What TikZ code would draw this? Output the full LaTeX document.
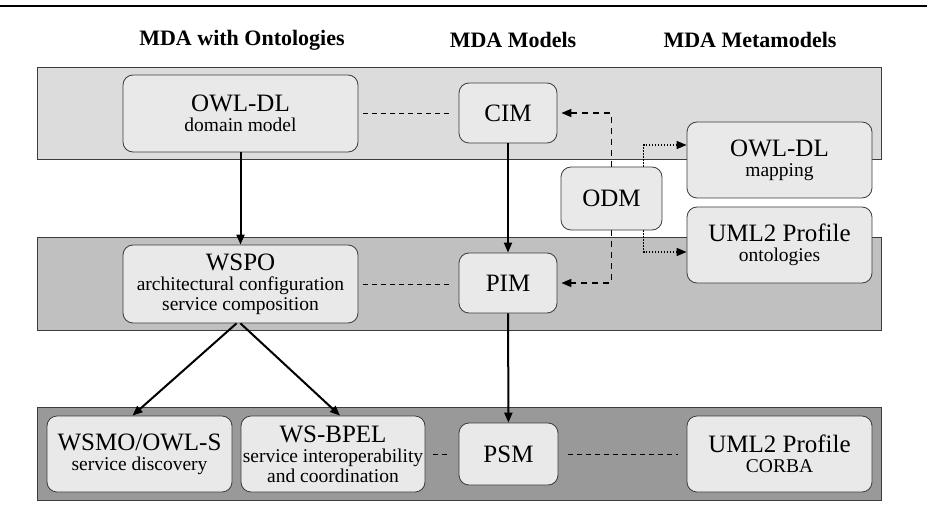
\documentclass[tikz,border=0pt]{standalone}
\usepackage{fontspec}
\setmainfont{Liberation Serif}
\newfontfamily\mserif{Liberation Serif}
\usetikzlibrary{positioning, calc, arrows.meta}
\definecolor{mbandA}{RGB}{220,220,220}
\definecolor{mbandB}{RGB}{192,192,192}
\definecolor{mbandC}{RGB}{153,153,153}
\definecolor{mbox}{RGB}{233,233,233}
\definecolor{mline}{RGB}{60,60,60}
\newcommand{\mtitle}[1]{{\fontsize{25}{25}\selectfont #1}}

\begin{document}
\begin{tikzpicture}[x=1pt,y=-1pt,
    band/.style={draw=mline, line width=0.8pt},
    model/.style={draw=mline, fill=mbox, rounded corners=10pt, line width=0.8pt,
      align=center, inner sep=0pt, font=\mserif\fontsize{19.5}{20}\selectfont},
    head/.style={font=\mserif\fontsize{22}{24}\selectfont\bfseries},
    flow/.style={-{Triangle[length=10pt,width=8pt]}, line width=2pt},
    link/.style={line width=0.9pt, dash pattern=on 5pt off 4pt},
    odmlink/.style={-{Triangle[length=10pt,width=8pt]}, line width=1.5pt,
      dash pattern=on 6pt off 5pt, shorten >=4pt},
    metalink/.style={-{Triangle[length=10pt,width=8pt]}, line width=1.5pt,
      dash pattern=on 1.5pt off 1.5pt}]
  \useasboundingbox (0,0) rectangle (927,508);
  \draw[line width=2.5pt] (0,6) -- (927,6);

  % column titles
  \node[head] (hont) at (242,40) {MDA with Ontologies};
  \node[head] (hmod) at (513,40) {MDA Models};
  \node[head] (hmeta) at (750,40) {MDA Metamodels};

  % the three layers
  \filldraw[band, fill=mbandA] (37,67) rectangle (881,159);
  \filldraw[band, fill=mbandB] (37,237) rectangle (881,330);
  \filldraw[band, fill=mbandC] (37,407) rectangle (881,500);

  % ontology side
  \node[model, minimum width=235pt, minimum height=77pt] (owl) at (240.5,113.5)
    {\mtitle{OWL-DL}\\domain model};
  \node[model, minimum width=235pt, minimum height=78pt] (wspo) at (240.5,284)
    {\mtitle{WSPO}\\architectural configuration\\service composition};
  \node[model, minimum width=185pt, minimum height=76pt] (wsmo) at (139.5,454)
    {\mtitle{WSMO/OWL-S}\\service discovery};
  \node[model, minimum width=184pt, minimum height=76pt] (bpel) at (333,454)
    {\mtitle{WS-BPEL}\\service interoperability\\and coordination};

  % MDA models
  \node[model, minimum width=98pt, minimum height=60pt] (cim) at (508,113) {\mtitle{CIM}};
  \node[model, minimum width=98pt, minimum height=60pt] (pim) at (508,283) {\mtitle{PIM}};
  \node[model, minimum width=99pt, minimum height=62pt] (psm) at (508.5,454) {\mtitle{PSM}};
  \node[model, minimum width=101pt, minimum height=63pt] (odm) at (611.5,198.5) {\mtitle{ODM}};

  % metamodels
  \node[model, minimum width=185pt, minimum height=76pt] (owlmap) at (779.5,160)
    {\mtitle{OWL-DL}\\mapping};
  \node[model, minimum width=185pt, minimum height=76pt] (umlont) at (779.5,245)
    {\mtitle{UML2 Profile}\\ontologies};
  \node[model, minimum width=185pt, minimum height=76pt] (corba) at (779.5,454)
    {\mtitle{UML2 Profile}\\CORBA};

  % transformations
  \draw[flow] (owl) -- (wspo);
  \draw[flow] (cim) -- (pim);
  \draw[flow] (pim) -- (psm);
  \draw[flow] ($(wspo.south)+(-4,0)$) -- ($(wsmo.north)+(-7,0)$);
  \draw[flow] ($(wspo.south)+(0,0)$) -- ($(bpel.north)+(7,0)$);

  % correspondences
  \draw[link, shorten <=5pt, shorten >=10pt] (owl.east) -- (owl.east -| cim.west);
  \draw[link, shorten <=5pt, shorten >=10pt] (wspo.east) -- (wspo.east -| pim.west);
  \draw[link, shorten <=8pt, shorten >=8pt] (bpel.east) -- (bpel.east -| psm.west);
  \draw[link, shorten <=10pt, shorten >=9pt] (psm.east) -- (psm.east -| corba.west);

  % ODM
  \draw[odmlink] (odm.north) |- (cim.east);
  \draw[odmlink] (odm.south) |- (pim.east);
  \draw[metalink] ($(odm.north)+(32,0)$) |- ($(owlmap.west)+(0,-15)$);
  \draw[metalink] ($(odm.south)+(32,0)$) |- ($(umlont.west)+(0,7)$);
\end{tikzpicture}
\end{document}
